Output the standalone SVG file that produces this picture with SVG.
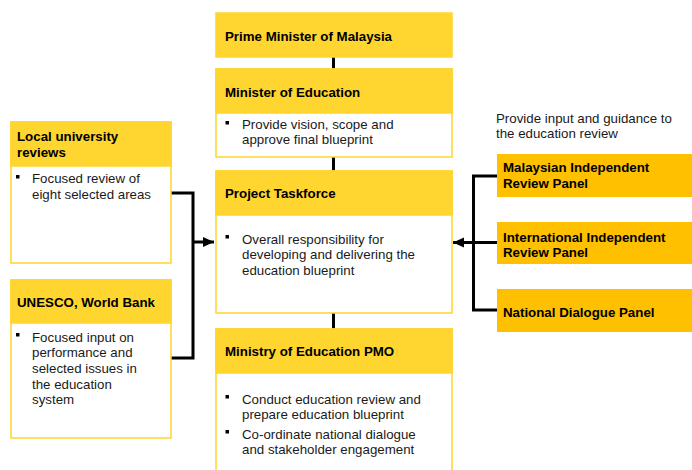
<svg xmlns="http://www.w3.org/2000/svg" width="692" height="470" viewBox="0 0 692 470">
<defs>
<style>
.box{fill:#ffffff;stroke:#FFD52F;stroke-width:1.5}
.hdr{fill:#FFD52F;stroke:#FFD52F;stroke-width:1.5}
.pnl{fill:#FFC000}
.h{font-family:"Liberation Sans",Arial,sans-serif;font-size:13.3px;font-weight:bold;fill:#000}
.t{font-family:"Liberation Sans",Arial,sans-serif;font-size:13.3px;fill:#1a1a1a}
.b{fill:#000}
.c{fill:none;stroke:#000;stroke-width:3}
</style>
<marker id="ah" markerUnits="userSpaceOnUse" markerWidth="12" markerHeight="12" viewBox="0 0 12 12" refX="11" refY="6" orient="auto">
<path d="M0,1 L11,6 L0,11 Z" fill="#000"/>
</marker>
</defs>
<g id="connectors">
<path class="c" d="M333.5,57 V69"/>
<path class="c" d="M333.5,157 V171"/>
<path class="c" d="M333.5,313 V329"/>
<path class="c" d="M171,193 H193 V358 H171"/>
<path class="c" d="M193,242 H214" marker-end="url(#ah)"/>
<path class="c" d="M497,176 H473.5 V310 H497"/>
<path class="c" d="M497,242.5 H453" marker-end="url(#ah)"/>
</g>
<g id="pm">
<rect class="hdr" x="216" y="13" width="236" height="44"/>
<text class="h" x="225" y="41">Prime Minister of Malaysia</text>
</g>
<g id="moe">
<rect class="box" x="216" y="69" width="236" height="88"/>
<rect class="hdr" x="216" y="69" width="236" height="44"/>
<text class="h" x="225" y="97">Minister of Education</text>
<rect class="b" x="225.5" y="121" width="3.5" height="3.5"/>
<text class="t" x="242" y="129.3">Provide vision, scope and</text>
<text class="t" x="242" y="144.3">approve final blueprint</text>
</g>
<g id="taskforce">
<rect class="box" x="216" y="171" width="236" height="142"/>
<rect class="hdr" x="216" y="171" width="236" height="44"/>
<text class="h" x="225" y="198">Project Taskforce</text>
<rect class="b" x="225.5" y="235" width="3.5" height="3.5"/>
<text class="t" x="242" y="243.5">Overall responsibility for</text>
<text class="t" x="242" y="259">developing and delivering the</text>
<text class="t" x="242" y="274.5">education blueprint</text>
</g>
<g id="pmo">
<rect class="box" x="216" y="329" width="236" height="150"/>
<rect class="hdr" x="216" y="329" width="236" height="44"/>
<text class="h" x="225" y="356">Ministry of Education PMO</text>
<rect class="b" x="225.5" y="395" width="3.5" height="3.5"/>
<text class="t" x="242" y="403.5">Conduct education review and</text>
<text class="t" x="242" y="418.5">prepare education blueprint</text>
<rect class="b" x="225.5" y="430" width="3.5" height="3.5"/>
<text class="t" x="242" y="438.5">Co-ordinate national dialogue</text>
<text class="t" x="242" y="454">and stakeholder engagement</text>
</g>
<g id="local">
<rect class="box" x="11" y="122" width="160" height="141"/>
<rect class="hdr" x="11" y="122" width="160" height="44"/>
<text class="h" x="17" y="141">Local university</text>
<text class="h" x="17" y="157">reviews</text>
<rect class="b" x="16" y="175" width="3.5" height="3.5"/>
<text class="t" x="32" y="183">Focused review of</text>
<text class="t" x="32" y="198.5">eight selected areas</text>
</g>
<g id="unesco">
<rect class="box" x="11" y="280" width="160" height="158"/>
<rect class="hdr" x="11" y="280" width="160" height="43"/>
<text class="h" x="17" y="307">UNESCO, World Bank</text>
<rect class="b" x="16" y="333" width="3.5" height="3.5"/>
<text class="t" x="32" y="341.5">Focused input on</text>
<text class="t" x="32" y="357.2">performance and</text>
<text class="t" x="32" y="372.9">selected issues in</text>
<text class="t" x="32" y="388.6">the education</text>
<text class="t" x="32" y="404.3">system</text>
</g>
<g id="note">
<text class="t" x="496" y="123">Provide input and guidance to</text>
<text class="t" x="496" y="137.5">the education review</text>
</g>
<g id="mirp">
<rect class="pnl" x="497" y="154" width="195" height="43"/>
<text class="h" x="503" y="172">Malaysian Independent</text>
<text class="h" x="503" y="188">Review Panel</text>
</g>
<g id="iirp">
<rect class="pnl" x="497" y="222" width="195" height="42"/>
<text class="h" x="503" y="241.5">International Independent</text>
<text class="h" x="503" y="257">Review Panel</text>
</g>
<g id="ndp">
<rect class="pnl" x="497" y="289" width="195" height="43"/>
<text class="h" x="503" y="317">National Dialogue Panel</text>
</g>
</svg>
